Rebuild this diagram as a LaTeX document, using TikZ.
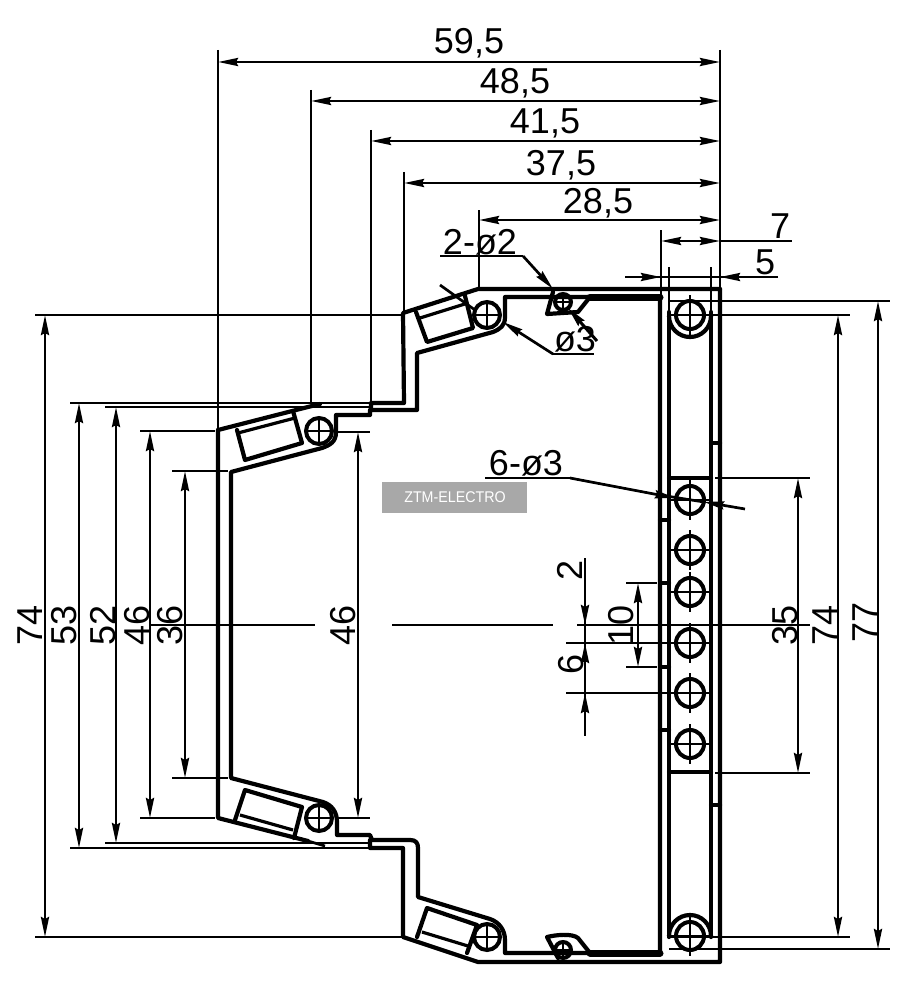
\documentclass[tikz,border=0pt]{standalone}
\usepackage{fontspec}
\setmainfont{Liberation Sans}
\usetikzlibrary{arrows.meta}
\tikzset{
  wall/.style={line width=4.2pt,line join=round,line cap=round},
  heavy/.style={line width=7pt,line cap=round},
  thin wall/.style={line width=3.2pt,line join=miter},
  ext/.style={line width=2.7pt},
  dimline/.style={line width=2.7pt,{Stealth[length=20pt,width=8pt,inset=2pt]}-{Stealth[length=20pt,width=8pt,inset=2pt]}},
  lead/.style={line width=2.7pt,-{Stealth[length=20pt,width=8pt,inset=2pt]}},
  dimtext/.style={font=\fontsize{36}{36}\selectfont,inner sep=0pt},
  holec/.style={line width=4pt},
  holex/.style={line width=2.8pt},
}
\newcommand\holeat[4]{%
  \draw[holec] (#1,#2) circle[radius=#3pt];
  \draw[holex] (#1-#4,#2) -- (#1+#4,#2) (#1,#2-#4) -- (#1,#2+#4);
}
\begin{document}
\begin{tikzpicture}[x=1pt,y=-1pt]
\useasboundingbox (0,0) rectangle (909,995);
\fill[white] (0,0) rectangle (909,995);

% ---- main contour
\draw[wall] (660,297) -- (505,297) -- (505,317) .. controls (505,326) and (500,329) .. (493,332) -- (417,353) -- (417,410) -- (370,410) -- (370,415) -- (336,415) -- (336,432) .. controls (336,442) and (330,445) .. (322,448) -- (231,472) -- (231,778) -- (323,802) .. controls (332,805) and (337,812) .. (337,822) -- (337,835) -- (370,835) -- (372,840) -- (410,840) .. controls (416,840) and (418,843) .. (418,848) -- (418,897) -- (490,919) .. controls (499,922) and (505,930) .. (505,940) -- (505,953) -- (660,953) -- cycle;
% outer contour
\draw[wall] (720,289) -- (478,289) -- (403,313) -- (404,403) -- (371,403) -- (371,410);
\draw[wall] (720,289) -- (720,962) -- (478,962) -- (403,937) -- (403,848) -- (370,848) -- (370,840);
% left wall and plates
\draw[ext] (218,50) -- (218,430);
\draw[wall] (218,430) -- (218,818) -- (308,841);
\draw[wall] (218,430) -- (300,409) -- (320,404);
\draw[ext] (308,841) -- (325,846);

% latch rectangles
\draw[wall] (237,430) -- (245,460) -- (302,443) -- (293,411);
\draw[thin wall] (238,433) -- (295,418);
\draw[wall] (235,820) -- (245,790) -- (302,807) -- (294,838);
\draw[thin wall] (240,815) -- (293,830);
\draw[wall] (416,312) -- (427,342) -- (473,328) -- (465,296);
\draw[thin wall] (420,318) -- (468,303);
\draw[wall] (417,937) -- (427,908) -- (477,925) -- (467,953);
\draw[thin wall] (422,932) -- (468,946);

% clip detail top
\draw[heavy] (590,297) -- (660,297);
\draw[wall] (553,292) -- (547,314) -- (578,312) -- (590,297);
% clip detail bottom
\draw[heavy] (590,953) -- (660,953);
\draw[wall] (558,958) -- (547,937) .. controls (555,935) and (572,933) .. (578,938) -- (590,953);

% rail
\draw[wall] (669,312) -- (669,937);
\draw[wall] (711,312) -- (711,937);
\foreach \ty in {520,583,667,730} {\draw[wall] (660,\ty) -- (669,\ty);}
\foreach \ty in {443,805} {\draw[wall] (711,\ty) -- (720,\ty);}
\draw[wall] (669,478) -- (711,478);
\draw[wall] (669,772) -- (711,772);

% holes
\holeat{690}{500}{14}{20}
\holeat{690}{550}{14}{20}
\holeat{690}{592}{14}{20}
\holeat{690}{643}{14}{20}
\holeat{690}{693}{14}{20}
\holeat{690}{744}{14}{20}
\holeat{690}{315}{14}{20}
\holeat{690}{936}{14}{20}
\draw[wall] (669,316) arc[start angle=180,end angle=0,radius=21];
\draw[wall] (669,936) arc[start angle=180,end angle=360,radius=21];
\holeat{487}{315}{13}{15}
\holeat{319}{431}{13}{15}
\holeat{319}{818}{13}{15}
\holeat{487}{937}{13}{15}
\holeat{563}{302}{8}{10}
\holeat{563}{950}{8}{10}

% top dimensions
\draw[ext] (311,90) -- (311,403);
\draw[ext] (371,130) -- (371,403);
\draw[ext] (404,172) -- (404,313);
\draw[ext] (479,210) -- (479,288);
\draw[ext] (720,50) -- (720,289);
\draw[ext] (661,230) -- (661,297);
\draw[ext] (669,267) -- (669,312);
\draw[ext] (711,267) -- (711,312);
\draw[dimline] (218,62) -- (720,62);
\draw[dimline] (311,101) -- (720,101);
\draw[dimline] (371,141) -- (720,141);
\draw[dimline] (404,183) -- (720,183);
\draw[dimline] (479,220) -- (720,220);
\draw[dimline] (661,241) -- (720,241);
\draw[ext] (720,241) -- (792,241);
\draw[ext] (625,277) -- (778,277);
\draw[lead] (625,277) -- (661,277);
\draw[lead] (778,277) -- (720,277);
\node[dimtext] (t595) at (469,43) {59,5};
\node[dimtext] (t485) at (515,83) {48,5};
\node[dimtext] (t415) at (545,123) {41,5};
\node[dimtext] (t375) at (561,165) {37,5};
\node[dimtext] (t285) at (598,203) {28,5};
\node[dimtext] (t7) at (780,226) {7};
\node[dimtext] (t5) at (765,262) {5};

% left extension lines
\draw[ext] (35,315) -- (403,315);
\draw[ext] (35,937) -- (403,937);
\draw[ext] (70,403) -- (371,403);
\draw[ext] (70,848) -- (370,848);
\draw[ext] (105,407) -- (371,407);
\draw[ext] (105,843) -- (370,843);
\draw[ext] (140,431) -- (215,431) (338,432) -- (370,432);
\draw[ext] (140,818) -- (215,818) (338,818) -- (370,818);
\draw[ext] (172,471) -- (228,471);
\draw[ext] (172,778) -- (228,778);
% left dimensions
\draw[dimline] (45,315) -- (45,937);
\draw[dimline] (79,403) -- (79,848);
\draw[dimline] (116,407) -- (116,843);
\draw[dimline] (150,431) -- (150,818);
\draw[dimline] (185,471) -- (185,778);
\draw[dimline] (358,432) -- (358,818);
\node[dimtext,rotate=90] (l74) at (30,625) {74};
\node[dimtext,rotate=90] (l53) at (64,625) {53};
\node[dimtext,rotate=90] (l52) at (103,625) {52};
\node[dimtext,rotate=90] (l46) at (137,625) {46};
\node[dimtext,rotate=90] (l36) at (170,625) {36};
\node[dimtext,rotate=90] (m46) at (343,625) {46};

% centre line
\draw[ext] (150,625) -- (315,625);
\draw[ext] (392,625) -- (553,625);
\draw[ext] (577,625) -- (810,625);

% right extension lines and dimensions
\draw[ext] (669,301) -- (890,301);
\draw[ext] (669,949) -- (890,949);
\draw[ext] (711,315) -- (850,315);
\draw[ext] (667,937) -- (850,937);
\draw[ext] (715,478) -- (810,478);
\draw[ext] (715,773) -- (810,773);
\draw[dimline] (798,478) -- (798,773);
\draw[dimline] (838,315) -- (838,937);
\draw[dimline] (878,301) -- (878,949);
\node[dimtext,rotate=90] (r35) at (785,625) {35};
\node[dimtext,rotate=90] (r74) at (825,625) {74};
\node[dimtext,rotate=90] (r77) at (865,622) {77};

% small dimensions
\draw[ext] (566,643) -- (700,643);
\draw[ext] (566,693) -- (700,693);
\draw[ext] (585,558) -- (585,736);
\draw[lead] (585,570) -- (585,625);
\draw[lead] (585,675) -- (585,643);
\draw[lead] (585,725) -- (585,693);
\draw[ext] (626,583) -- (657,583);
\draw[ext] (626,667) -- (657,667);
\draw[dimline] (638,583) -- (638,667);
\node[dimtext,rotate=90] (s2) at (570,570) {2};
\node[dimtext,rotate=90] (s6) at (571,664) {6};
\node[dimtext,rotate=90] (s10) at (621,625) {10};

% leaders
\node[dimtext] (d22) at (480,242) {2-ø2};
\draw[ext] (440,256) -- (523,256);
\draw[lead] (523,256) -- (553,289);
\node[dimtext] (d3) at (575,339) {ø3};
\draw[ext] (552,354) -- (594,354);
\draw[lead] (553,354) -- (503,322);
\draw[ext] (440,285) -- (475,310);
\draw[lead,line width=3pt] (597,341) -- (568,308);
\node[dimtext] (d63) at (526,463) {6-ø3};
\draw[ext] (485,478) -- (570,478);
\draw[lead] (570,478) -- (675,498);
\draw[lead] (745,509) -- (704,502);
\draw[ext] (660,495) -- (704,502);

% watermark
\fill[black!34] (382,482) rectangle (527,513);
\node[inner sep=0pt,text=white,xscale=0.92,font=\fontsize{15.5}{16}\selectfont] (wm) at (455,497) {ZTM-ELECTRO};
\end{tikzpicture}
\end{document}
